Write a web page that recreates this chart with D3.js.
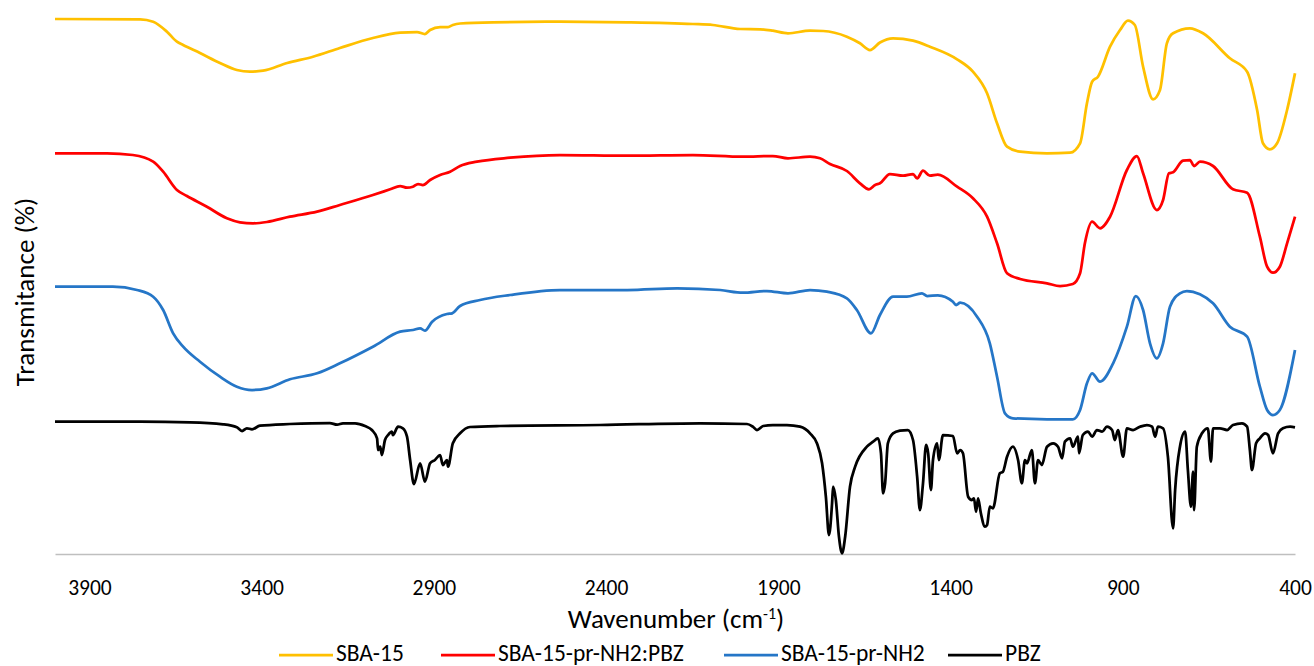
<!DOCTYPE html>
<html lang="en">

<head>
    <meta charset="UTF-8">
    <title>FTIR spectra</title>
    <script src="https://d3js.org/d3.v7.min.js"></script>
    <style>
        body {
            margin: 0;
            background: #fff;
        }

        text {
            font-family: Calibri, Carlito, "Open Sans", sans-serif;
            fill: #000;
        }
    </style>
</head>

<body>
    <div id="chart"></div>
    <script>
        const width = 1314;
        const height = 666;

        // [wavenumber (cm-1), transmittance (offset units)]
        const sba15 = [[4000, 535], [3753, 534.7], [3715, 532.3], [3675, 522.3], [3646, 512.3], [3628, 509], [3579, 501], [3521, 491], [3472, 484], [3434, 482.3], [3396, 483.3], [3326, 491], [3251, 497.3], [3173, 506], [3077, 516], [2998, 521.3], [2949, 522], [2926, 520], [2911, 524], [2882, 527], [2859, 527], [2845, 529], [2824, 530.5], [2728, 531.7], [2534, 532.3], [2339, 531.7], [2148, 530], [2090, 529], [2011, 525], [1953, 524.7], [1916, 523.3], [1872, 520.7], [1808, 523.3], [1770, 523], [1701, 517.3], [1663, 510.7], [1634, 504], [1605, 511.5], [1567, 515.7], [1509, 513.3], [1460, 507.3], [1381, 494.7], [1335, 482.3], [1294, 460.7], [1265, 430.7], [1236, 407.3], [1198, 402.3], [1120, 400.7], [1053, 401.3], [1024, 410.7], [1004, 450.7], [989, 472.3], [972, 477.3], [937, 507.3], [908, 524], [885, 533.3], [865, 529], [841, 487.3], [812, 454.7], [792, 464], [772, 510.7], [754, 520.7], [705, 525.7], [667, 520.7], [589, 495.7], [539, 482.3], [510, 444], [493, 410.7], [473, 404.7], [452, 410.7], [423, 444], [400, 480.7]];

        const sbaNh2Pbz = [[4000, 400.7], [3849, 400.7], [3774, 399], [3715, 392.3], [3686, 382.3], [3646, 364], [3617, 358], [3559, 347.3], [3501, 335.7], [3463, 331.7], [3425, 330.7], [3385, 332], [3318, 337.3], [3239, 342.3], [3173, 349], [3077, 359], [3027, 364.7], [2998, 368], [2978, 366.3], [2961, 367.3], [2946, 370], [2932, 369], [2911, 374], [2882, 379], [2853, 382.3], [2824, 388], [2775, 392.3], [2679, 396.3], [2534, 399], [2339, 398.3], [2148, 399], [2003, 397.3], [1916, 398], [1872, 395.7], [1808, 397.3], [1779, 395.7], [1750, 390], [1701, 383], [1663, 370.7], [1637, 364.7], [1619, 369], [1605, 370.7], [1576, 380], [1538, 378.3], [1509, 380], [1497, 375.7], [1480, 383.3], [1460, 378.3], [1437, 379.3], [1381, 367.3], [1335, 355.7], [1294, 337.3], [1265, 310.7], [1236, 280.7], [1198, 275], [1120, 270.7], [1082, 268], [1045, 270], [1024, 280.7], [1010, 310.7], [989, 332.3], [966, 325.7], [937, 337.3], [888, 384], [859, 398], [841, 380.7], [801, 344], [783, 354], [766, 380.7], [754, 381.7], [725, 393.3], [705, 394], [693, 388], [676, 392.3], [638, 388], [580, 364.7], [539, 361.3], [502, 317.3], [481, 287.3], [464, 281.3], [444, 287.3], [423, 310.7], [400, 337.3]];

        const sbaNh2 = [[4000, 267.3], [3832, 267.3], [3762, 264], [3715, 257.3], [3686, 244], [3657, 220.7], [3628, 207.3], [3579, 192.3], [3521, 177.3], [3472, 167.3], [3428, 164], [3385, 165.7], [3318, 174.7], [3239, 180.7], [3173, 190.7], [3077, 207.3], [2998, 222.3], [2961, 224], [2940, 225.7], [2926, 223.3], [2905, 232.3], [2862, 240], [2847, 240.7], [2824, 248], [2766, 254], [2679, 259], [2534, 264], [2339, 264], [2194, 265.7], [2069, 264], [2003, 261.3], [1933, 263], [1872, 260.7], [1808, 264], [1759, 262.3], [1701, 255.7], [1672, 244], [1631, 220.7], [1605, 239], [1567, 257.3], [1527, 257.3], [1483, 260.7], [1468, 258], [1437, 258.7], [1393, 252.3], [1384, 249], [1372, 251.3], [1323, 237.3], [1286, 210.7], [1265, 177.3], [1242, 140.7], [1219, 135.7], [1120, 134.7], [1045, 134.7], [1024, 144], [1004, 170.7], [989, 180.7], [966, 172.3], [928, 190.7], [888, 227.3], [862, 258], [841, 244], [821, 210.7], [801, 195.7], [783, 210.7], [763, 247.3], [734, 260.7], [714, 263], [676, 259.7], [638, 250.7], [589, 227.3], [539, 217.3], [502, 167.3], [481, 144], [464, 139], [444, 144], [400, 204]];

        const pbz = [[4000, 132.3], [3753, 132.3], [3608, 131.7], [3512, 129.7], [3472, 126.7], [3457, 123], [3443, 125.7], [3428, 124.7], [3405, 128.3], [3318, 130], [3202, 131], [3181, 129.3], [3164, 130.7], [3129, 130.7], [3100, 128], [3080, 124], [3065, 115.7], [3062, 104], [3056, 107.3], [3051, 99], [3042, 114], [3033, 119], [3022, 122.3], [3019, 119], [3004, 127.3], [2990, 125.7], [2978, 117.3], [2969, 94], [2958, 70], [2940, 90.7], [2926, 72.3], [2911, 90.7], [2897, 94], [2882, 99], [2874, 89], [2862, 94], [2859, 87.3], [2845, 110.7], [2824, 120.7], [2795, 127], [2708, 128], [2418, 129], [2127, 130.7], [1991, 130], [1974, 127.3], [1962, 124], [1944, 128], [1916, 129], [1875, 129], [1837, 127.3], [1808, 120.7], [1788, 110.7], [1773, 90.7], [1762, 57.3], [1753, 19], [1744, 50.7], [1741, 67.3], [1733, 54], [1724, 17.3], [1715, 0.7], [1706, 17.3], [1692, 67.3], [1677, 87.3], [1643, 107.3], [1625, 112.3], [1611, 115.7], [1602, 100.7], [1596, 60.7], [1590, 70.7], [1582, 110.7], [1567, 120.7], [1547, 123.3], [1524, 124], [1509, 114], [1497, 77.3], [1489, 44], [1480, 70.7], [1471, 109], [1465, 100.7], [1457, 64], [1451, 94], [1439, 110.7], [1434, 94], [1422, 119], [1393, 118], [1381, 100.7], [1372, 104], [1364, 100.7], [1349, 57.3], [1338, 54], [1332, 55.7], [1326, 42.3], [1320, 55.7], [1312, 40.7], [1300, 27.3], [1294, 29], [1286, 47.3], [1277, 45.7], [1257, 80.7], [1248, 82.3], [1236, 97.3], [1219, 107.3], [1204, 94], [1193, 70.7], [1184, 94], [1178, 90.7], [1164, 104], [1155, 70.7], [1146, 94], [1135, 89], [1120, 107.3], [1102, 110.7], [1088, 107.3], [1076, 95.7], [1068, 112.3], [1053, 115.7], [1045, 107.3], [1030, 117.3], [1027, 100.7], [1016, 119], [1001, 122.3], [989, 117.3], [975, 124], [960, 122.3], [946, 127.3], [931, 124], [923, 114], [914, 124], [899, 97.3], [888, 125.7], [870, 124], [850, 127.3], [830, 129], [815, 127.3], [806, 117.3], [798, 127.3], [783, 125.7], [769, 97.3], [754, 25.7], [748, 64], [734, 107.3], [719, 122.3], [711, 84], [702, 47.3], [696, 82.3], [693, 44], [685, 107.3], [670, 120.7], [653, 125.7], [644, 92.3], [638, 125.7], [618, 125.7], [597, 124], [580, 129], [554, 130.7], [539, 127.3], [531, 104], [525, 84], [513, 110.7], [502, 115.7], [487, 120.7], [478, 119], [464, 100.7], [449, 120.7], [435, 125.7], [414, 127.3], [400, 126.7]];

        const seriesNames = ["SBA-15", "SBA-15-pr-NH2:PBZ", "SBA-15-pr-NH2", "PBZ"];
        const seriesColors = ["#FFC000", "#FF0000", "#2576C7", "#000000"];
        const seriesData = [sba15, sbaNh2Pbz, sbaNh2, pbz];
        const xTicks = [3900, 3400, 2900, 2400, 1900, 1400, 900, 400];

        const svg = d3.select("#chart")
            .append("svg")
            .attr("width", width)
            .attr("height", height);

        const x = d3.scaleLinear().domain([4000, 400]).range([55, 1295]);
        const y = d3.scaleLinear().domain([0, 540]).range([554, 14]);

        const line = d3.line()
            .x(d => x(d[0]))
            .y(d => y(d[1]))
            .curve(d3.curveMonotoneX);

        // x axis (no tick marks, grey baseline)
        const xAxis = svg.append("g")
            .attr("transform", `translate(0,${y(0)})`)
            .call(d3.axisBottom(x).tickValues(xTicks).tickSize(0).tickPadding(26).tickFormat(d3.format("d")));
        xAxis.select(".domain").attr("stroke", "#BFBFBF").attr("stroke-width", 1.5);
        xAxis.selectAll("text")
            .style("font-family", 'Calibri, Carlito, "Open Sans", sans-serif')
            .style("font-size", "21.5px")
            .attr("fill", "#000");

        svg.selectAll(".spectrum")
            .data(seriesData)
            .enter()
            .append("path")
            .attr("class", "spectrum")
            .attr("d", line)
            .attr("fill", "none")
            .attr("stroke", (d, i) => seriesColors[i])
            .attr("stroke-width", 2.75)
            .attr("stroke-linejoin", "round");

        // axis titles
        const xTitle = svg.append("text")
            .attr("x", 676)
            .attr("y", 628)
            .attr("text-anchor", "middle")
            .style("font-size", "27px");
        xTitle.append("tspan").text("Wavenumber (cm");
        xTitle.append("tspan").attr("dy", -9).style("font-size", "16px").text("-1");
        xTitle.append("tspan").attr("dy", 9).text(")");

        svg.append("text")
            .attr("transform", "translate(34,292) rotate(-90)")
            .attr("text-anchor", "middle")
            .style("font-size", "27px")
            .text("Transmitance (%)");

        // legend
        const legendX = [279, 441, 724, 948];
        const legend = svg.selectAll(".legend")
            .data(seriesNames)
            .enter()
            .append("g")
            .attr("class", "legend")
            .attr("transform", (d, i) => `translate(${legendX[i]},655)`);
        legend.append("line")
            .attr("x1", 0).attr("x2", 54)
            .attr("stroke", (d, i) => seriesColors[i])
            .attr("stroke-width", 2.75);
        legend.append("text")
            .attr("x", 57)
            .attr("y", 6)
            .style("font-size", "23.5px")
            .text(d => d);
    </script>
</body>

</html>
